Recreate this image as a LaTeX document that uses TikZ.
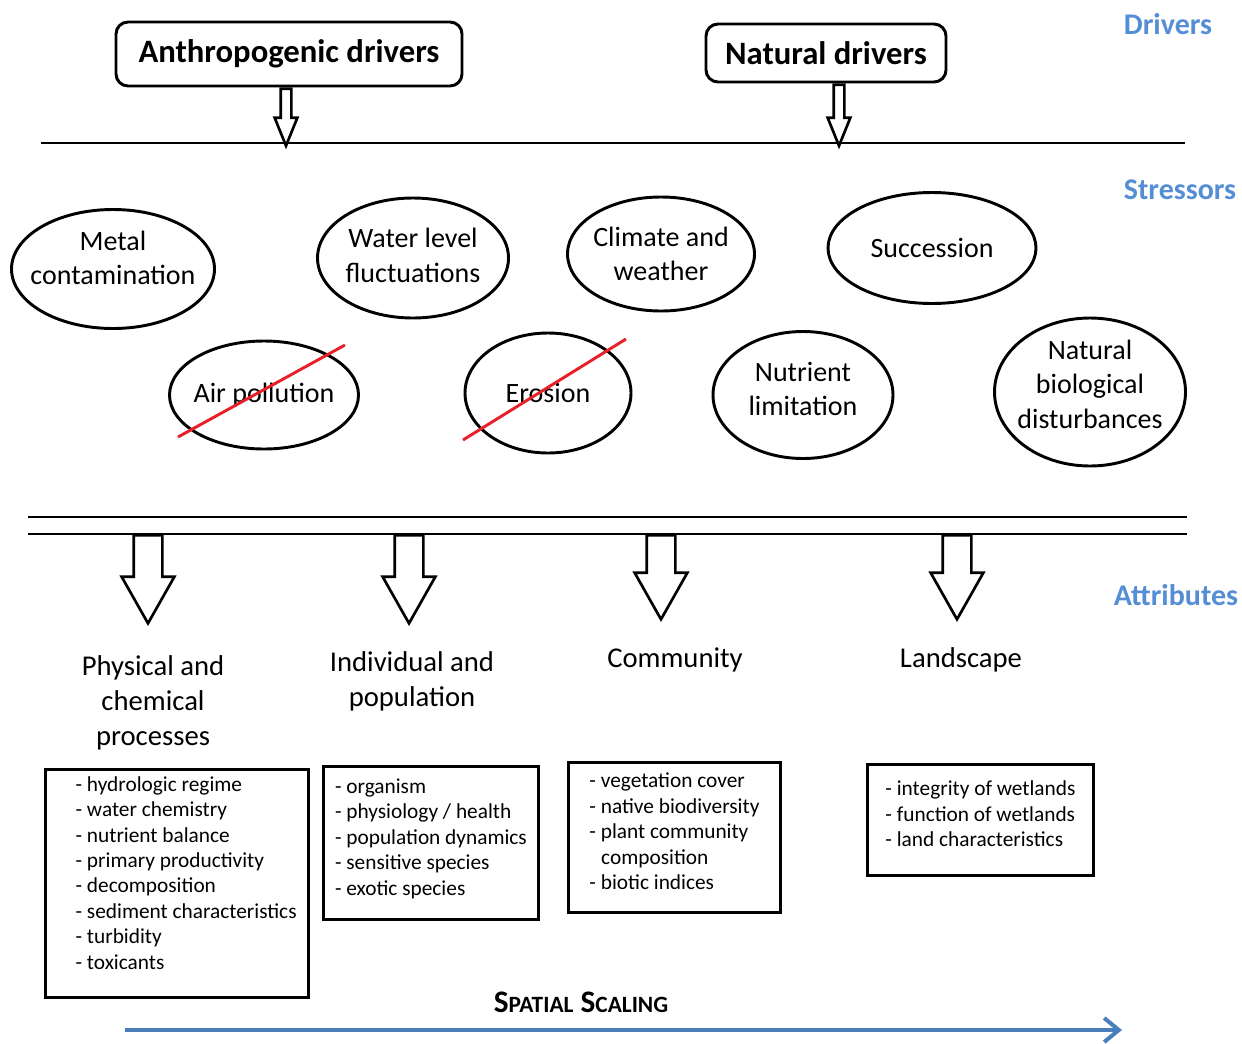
\documentclass[tikz,border=0pt]{standalone}
\usepackage{fontspec}
\setmainfont{Carlito}
\usetikzlibrary{shapes.geometric,shapes.arrows,arrows.meta,positioning,calc}

\definecolor{levelblue}{HTML}{558ED5}
\definecolor{scaleblue}{HTML}{4A7EBB}
\definecolor{strikered}{HTML}{E8202A}

\tikzset{
  driverbox/.style={draw, line width=2.2pt, rounded corners=9pt, inner sep=0pt,
    font=\bfseries\fontsize{24.5}{29}\selectfont},
  stressor/.style={draw, ellipse, line width=2.2pt, inner sep=-15pt, align=center,
    font=\fontsize{21}{26}\selectfont},
  levellabel/.style={text=levelblue, font=\bfseries\fontsize{22.5}{26}\selectfont},
  attrlabel/.style={align=center, font=\fontsize{21.5}{26.25}\selectfont},
  attrbox/.style={draw, line width=2.2pt, align=left, inner sep=0pt, anchor=north west,
    text depth=9pt, font=\fontsize{16}{19.1}\selectfont},
  thinarrow/.style={draw, single arrow, shape border rotate=270, line width=2pt,
    inner sep=3pt, minimum width=15pt, single arrow head extend=4.5pt,
    single arrow tip angle=44, anchor=tail},
  blockarrow/.style={draw, single arrow, shape border rotate=270, line width=2pt,
    inner sep=9.75pt, minimum width=37.5pt, single arrow head extend=9pt,
    single arrow tip angle=59, anchor=tail},
  strike/.style={strikered, line width=2.2pt},
  bar/.style={line width=2.2pt},
}

\begin{document}
\begin{tikzpicture}[x=0.75pt, y=-0.75pt]
  \useasboundingbox (0,0) rectangle (1242,1043);

  % drivers
  \node[driverbox, minimum width=259.5pt, minimum height=48pt] (anthro) at (289,54) {Anthropogenic drivers};
  \node[driverbox, minimum width=180pt, minimum height=43.5pt] (natural) at (826,53) {Natural drivers};
  \coordinate (barL) at (41,143);
  \coordinate (barR) at (1185,143);
  \draw[bar] (barL) -- (barR);
  \node[thinarrow, minimum height=42.75pt] (anthroArr) at ([xshift=-2.25pt]anthro.south) {};
  \node[thinarrow, minimum height=45.75pt] (naturalArr) at ([xshift=9.75pt]natural.south) {};

  \node[levellabel] (lvlDrivers) at (1168,24) {Drivers};
  \node[levellabel] (lvlStressors) at (1180,190) {Stressors};
  \node[levellabel] (lvlAttributes) at (1176,595) {Attributes};

  % stressors
  \node[stressor, text depth=17pt, minimum width=152.25pt, minimum height=89.25pt] (metal) at (113,269) {Metal\\contamination};
  \node[stressor, text depth=4.5pt, minimum width=143.25pt, minimum height=90pt] (water) at (413,258) {Water level\\fluctuations};
  \node[stressor, minimum width=140.25pt, minimum height=85.5pt] (climate) at (661,254) {Climate and\\weather};
  \node[stressor, minimum width=156pt, minimum height=83.25pt] (succession) at (932,248) {Succession};
  \node[stressor, minimum width=141.75pt, minimum height=81pt] (air) at (264,395) {Air pollution};
  \node[stressor, minimum width=124.5pt, minimum height=90pt] (erosion) at (548,393) {Erosion};
  \node[stressor, text depth=9pt, minimum width=135pt, minimum height=95.25pt] (nutrient) at (803,395) {Nutrient\\limitation};
  \node[stressor, text depth=12pt, minimum width=143.25pt, minimum height=111pt] (disturb) at (1090,392) {Natural\\biological\\disturbances};

  \draw[strike] ($(air.center)+(-86,42)$) -- ($(air.center)+(81,-50)$);
  \draw[strike] ($(erosion.center)+(-85,47)$) -- ($(erosion.center)+(78,-54)$);

  % attributes
  \coordinate (topL) at (28,517);
  \coordinate (topR) at (1187,517);
  \coordinate (baseL) at (28,534);
  \coordinate (baseR) at (1187,534);
  \draw[bar] (topL) -- (topR);
  \draw[bar] (baseL) -- (baseR);

  \foreach \name/\xpos/\len in {physArr/148/88, indArr/409/88, commArr/661/84, landArr/957/84}
    \node[blockarrow, minimum height=\len*0.75pt] (\name) at (\xpos,534) {};

  \node[attrlabel] (physLbl) at (153,703) {Physical and\\chemical\\processes};
  \node[attrlabel] (indLbl) at (412,681) {Individual and\\population};
  \node[attrlabel] (commLbl) at (675,660) {Community};
  \node[attrlabel] (landLbl) at (961,660) {Landscape};

  \node[attrbox, text depth=16pt, minimum width=197.25pt, minimum height=171pt] (physBox) at (44,768)
    {- hydrologic regime\\- water chemistry\\- nutrient balance\\- primary productivity\\- decomposition\\\makebox[152pt][l]{- sediment characteristics}\\- turbidity\\- toxicants};
  \node[attrbox, minimum width=161.25pt, minimum height=114.75pt] (indBox) at (322,765)
    {- organism\\- physiology / health\\- population dynamics\\- sensitive species\\- exotic species};
  \node[attrbox, minimum width=159pt, minimum height=112.5pt] (commBox) at (567,761)
    {- vegetation cover\\- native biodiversity\\- plant community\\\hspace*{0.55em}composition\\- biotic indices};
  \node[attrbox, minimum width=169.5pt, minimum height=83.25pt] (landBox) at (866,763)
    {- integrity of wetlands\\- function of wetlands\\- land characteristics};

  % spatial scaling
  \node[font=\bfseries\fontsize{23.5}{27}\selectfont] (scaleLbl) at (581,1002)
    {S{\fontsize{17.5}{20}\selectfont PATIAL} S{\fontsize{17.5}{20}\selectfont CALING}};
  \coordinate (scaleL) at (125,1030);
  \coordinate (scaleR) at (1122,1030);
  \draw[scaleblue, line width=3pt, -{Straight Barb[length=11pt,width=18pt]}] (scaleL) -- (scaleR);
\end{tikzpicture}
\end{document}
